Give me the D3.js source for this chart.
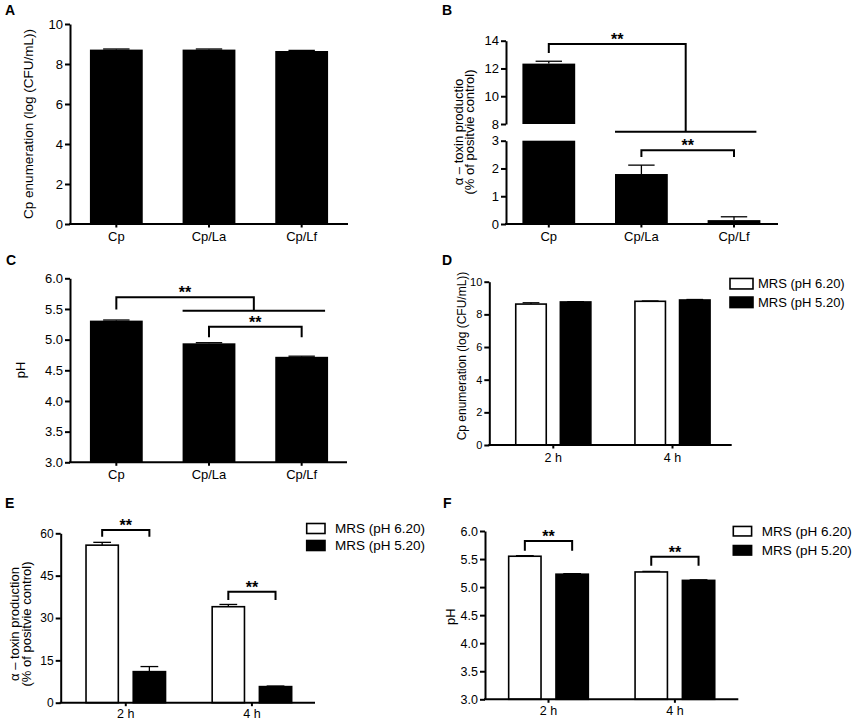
<!DOCTYPE html>
<html><head><meta charset="utf-8">
<script src="https://cdn.jsdelivr.net/npm/d3@7"></script>
<style>body{margin:0;background:#fff}</style>
</head><body>
<svg id="c" width="856" height="722"></svg>
<script>
// ---------------- DATA ----------------
const groupsABC = ["Cp", "Cp/La", "Cp/Lf"];
const cpEnumMean = [8.72, 8.72, 8.65];
const cpEnumErr = [0.03, 0.03, 0.03];
const toxinMean = [12.35, 1.80, 0.14];
const toxinErr = [0.17, 0.32, 0.12];
const phMean = [5.31, 4.94, 4.72];
const phErr = [0.01, 0.01, 0.01];

const timePoints = ["2 h", "4 h"];
const media = ["MRS (pH 6.20)", "MRS (pH 5.20)"];
const enumPH620 = [8.63, 8.80];
const enumPH620Err = [0.08, 0.02];
const enumPH520 = [8.76, 8.88];
const enumPH520Err = [0.02, 0.03];
const toxPH620 = [55.8, 34.0];
const toxPH620Err = [1.0, 0.8];
const toxPH520 = [11.0, 5.7];
const toxPH520Err = [1.8, 0.2];
const phPH620 = [5.55, 5.27];
const phPH620Err = [0.01, 0.01];
const phPH520 = [5.23, 5.12];
const phPH520Err = [0.01, 0.01];

const ticksEnum = [0, 2, 4, 6, 8, 10];
const ticksToxUpper = [8, 10, 12, 14];
const ticksToxLower = [0, 1, 2, 3];
const ticksPH = [3.0, 3.5, 4.0, 4.5, 5.0, 5.5, 6.0];
const ticksToxTime = [0, 15, 30, 45, 60];

// significance annotations (values in data units)
const sigB = { from: "Cp", top: 13.76, leg: 13.12, groupFrom: "Cp/La", groupTo: "Cp/Lf", groupLine: 3.32,
               pairFrom: "Cp/La", pairTo: "Cp/Lf", pairY: 2.66, pairLeg: 2.41 };
const sigC = { from: "Cp", top: 5.69, leg: 5.49, groupFrom: "Cp/La", groupTo: "Cp/Lf", groupLine: 5.47,
               pairFrom: "Cp/La", pairTo: "Cp/Lf", pairY: 5.21, pairLeg: 5.04 };
const sigE = [{ t: "2 h", y: 61.2, leg: 58.8 }, { t: "4 h", y: 39.3, leg: 36.4 }];
const sigF = [{ t: "2 h", y: 5.82, leg: 5.65 }, { t: "4 h", y: 5.54, leg: 5.38 }];
const sigLabel = "**";

// ---------------- HELPERS ----------------
const FONT = "'Liberation Sans', Arial, Helvetica, sans-serif";
const svg = d3.select("#c");

function txt(x, y, s, size, o = {}) {
  return svg.append("text").attr("x", x).attr("y", y)
    .attr("font-family", FONT).attr("font-size", size).attr("fill", "#000")
    .attr("font-weight", o.bold ? "bold" : "normal")
    .attr("text-anchor", o.anchor || "start")
    .attr("dominant-baseline", o.baseline || "auto")
    .text(s);
}
function rotLabel(xs, cy, lines, size) {
  lines.forEach((l, i) => {
    svg.append("text").attr("transform", `translate(${xs[i]},${cy}) rotate(-90)`)
      .attr("text-anchor", "middle").attr("dominant-baseline", "central")
      .attr("font-family", FONT).attr("font-size", size).attr("fill", "#000").text(l);
  });
}
function yAxis(scale, ticks, fmt, size, x) {
  svg.append("g").attr("transform", `translate(${x},0)`)
    .call(d3.axisLeft(scale).tickValues(ticks).tickFormat(fmt).tickSize(5).tickSizeOuter(0).tickPadding(2))
    .call(g => {
      g.attr("font-family", FONT).attr("font-size", size);
      g.select(".domain").attr("stroke", "#000").attr("stroke-width", 2);
      g.selectAll(".tick line").attr("stroke", "#000").attr("stroke-width", 2);
      g.selectAll(".tick text").attr("fill", "#000");
    });
}
function xAxis(x0, x1, y0, centers, labels, size, dy) {
  svg.append("line").attr("x1", x0 - 1).attr("x2", x1).attr("y1", y0).attr("y2", y0)
    .attr("stroke", "#000").attr("stroke-width", 2);
  centers.forEach((c, i) => {
    svg.append("line").attr("x1", c).attr("x2", c).attr("y1", y0).attr("y2", y0 + 3.5)
      .attr("stroke", "#000").attr("stroke-width", 2);
    txt(c, y0 + dy, labels[i], size, { anchor: "middle" });
  });
}
function errBar(cx, yv, ye, capW) {
  svg.append("line").attr("x1", cx).attr("x2", cx).attr("y1", yv).attr("y2", ye)
    .attr("stroke", "#000").attr("stroke-width", 1.3);
  svg.append("line").attr("x1", cx - capW / 2).attr("x2", cx + capW / 2).attr("y1", ye).attr("y2", ye)
    .attr("stroke", "#000").attr("stroke-width", 1.3);
}
function path(d) {
  svg.append("path").attr("d", d).attr("fill", "none").attr("stroke", "#000").attr("stroke-width", 2);
}
function stars(x, y) { txt(x, y + 1, sigLabel, 16, { bold: true, anchor: "middle" }); }

function simpleBars(x, y, cats, means, errs) {
  const bw = x.bandwidth();
  svg.append("g").selectAll("rect").data(cats).join("rect")
    .attr("x", d => x(d)).attr("y", (d, i) => y(means[i]))
    .attr("width", bw).attr("height", (d, i) => y(y.domain()[0]) - y(means[i]))
    .attr("fill", "#000");
  cats.forEach((c, i) => errBar(x(c) + bw / 2, y(means[i]), y(means[i] + errs[i]), bw * 0.5));
}
function groupedBars(xo, xi, y, seriesVals, seriesErrs) {
  const bw = xi.bandwidth();
  media.forEach((m, si) => {
    svg.append("g").selectAll("rect").data(timePoints).join("rect")
      .attr("x", d => xo(d) + xi(m)).attr("y", (d, i) => y(seriesVals[si][i]))
      .attr("width", bw).attr("height", (d, i) => y(y.domain()[0]) - y(seriesVals[si][i]))
      .attr("fill", si === 0 ? "#fff" : "#000").attr("stroke", "#000").attr("stroke-width", 1.6);
    timePoints.forEach((t, i) => {
      const v = seriesVals[si][i];
      errBar(xo(t) + xi(m) + bw / 2, y(v), y(v + seriesErrs[si][i]), bw * 0.55);
    });
  });
}
function legend(x, ys, boxW, boxH, textX, size) {
  media.forEach((m, i) => {
    svg.append("rect").attr("x", x).attr("y", ys[i] - boxH / 2).attr("width", boxW).attr("height", boxH)
      .attr("fill", i === 0 ? "#fff" : "#000").attr("stroke", "#000").attr("stroke-width", 1.6);
    txt(textX, ys[i], m, size, { baseline: "central" });
  });
}
function pairBracket(x1, x2, yTop, yLeg) {
  path(`M${x1},${yLeg}V${yTop}H${x2}V${yLeg}`);
  stars((x1 + x2) / 2, yTop);
}
function groupBracket(xFrom, yTop, yLeg, gx1, gx2, gy) {
  const mid = (gx1 + gx2) / 2;
  path(`M${xFrom},${yLeg}V${yTop}H${mid}V${gy}`);
  path(`M${gx1},${gy}H${gx2}`);
  stars((xFrom + mid) / 2, yTop);
}
const fmt0 = d3.format("d"), fmt1 = d3.format(".1f");

// ---------------- PANEL A ----------------
txt(5, 15, "A", 14, { bold: true });
const xA = d3.scaleBand().domain(groupsABC).range([70, 348]).paddingInner(0.43).paddingOuter(0.215);
const yA = d3.scaleLinear().domain([0, 10]).range([224, 24]);
simpleBars(xA, yA, groupsABC, cpEnumMean, cpEnumErr);
yAxis(yA, ticksEnum, fmt0, 13, 70);
xAxis(70, 348, 224, groupsABC.map(g => xA(g) + xA.bandwidth() / 2), groupsABC, 13, 17);
rotLabel([28], 124, ["Cp enumeration (log (CFU/mL))"], 13.5);

// ---------------- PANEL B ----------------
txt(442, 15, "B", 14, { bold: true });
const xB = d3.scaleBand().domain(groupsABC).range([502.5, 780.3]).paddingInner(0.43).paddingOuter(0.215);
const yBU = d3.scaleLinear().domain([8, 14]).range([124, 40.7]);
const yBL = d3.scaleLinear().domain([0, 3]).range([224, 140.7]);
{
  const bw = xB.bandwidth();
  svg.append("g").selectAll("rect").data(groupsABC).join("rect")
    .attr("x", d => xB(d)).attr("y", (d, i) => yBL(Math.min(toxinMean[i], 3)))
    .attr("width", bw).attr("height", (d, i) => yBL(0) - yBL(Math.min(toxinMean[i], 3)))
    .attr("fill", "#000");
  svg.append("g").selectAll("rect").data(groupsABC.filter((d, i) => toxinMean[i] > 8)).join("rect")
    .attr("x", d => xB(d)).attr("y", d => yBU(toxinMean[groupsABC.indexOf(d)]))
    .attr("width", bw).attr("height", d => yBU(8) - yBU(toxinMean[groupsABC.indexOf(d)]))
    .attr("fill", "#000");
  groupsABC.forEach((c, i) => {
    const v = toxinMean[i], s = v > 8 ? yBU : yBL;
    errBar(xB(c) + bw / 2, s(v), s(v + toxinErr[i]), bw * 0.5);
  });
  yAxis(yBU, ticksToxUpper, fmt0, 13, 506);
  yAxis(yBL, ticksToxLower, fmt0, 13, 506);
  xAxis(506, 778, 224, groupsABC.map(g => xB(g) + bw / 2), groupsABC, 13, 17);
  const cx = g => xB(g) + bw / 2;
  groupBracket(cx(sigB.from), yBU(sigB.top), yBU(sigB.leg), xB(sigB.groupFrom), xB(sigB.groupTo) + bw - 4, yBL(sigB.groupLine));
  pairBracket(cx(sigB.pairFrom), cx(sigB.pairTo), yBL(sigB.pairY), yBL(sigB.pairLeg));
}
rotLabel([458, 469.5], 132, ["α – toxin productio", "(% of positvie control)"], 13);

// ---------------- PANEL C ----------------
txt(6, 265, "C", 14, { bold: true });
const xC = d3.scaleBand().domain(groupsABC).range([70, 348]).paddingInner(0.43).paddingOuter(0.215);
const yC = d3.scaleLinear().domain([3, 6]).range([462.3, 278.3]);
simpleBars(xC, yC, groupsABC, phMean, phErr);
yAxis(yC, ticksPH, fmt1, 13, 70);
xAxis(70, 347, 462.3, groupsABC.map(g => xC(g) + xC.bandwidth() / 2), groupsABC, 13, 17);
{
  const bw = xC.bandwidth(), cx = g => xC(g) + bw / 2;
  groupBracket(cx(sigC.from), yC(sigC.top), yC(sigC.leg), xC(sigC.groupFrom), xC(sigC.groupTo) + bw - 3, yC(sigC.groupLine));
  pairBracket(cx(sigC.pairFrom), cx(sigC.pairTo), yC(sigC.pairY), yC(sigC.pairLeg));
}
rotLabel([20], 370, ["pH"], 13);

// ---------------- PANEL D ----------------
txt(442, 265, "D", 14, { bold: true });
const xD = d3.scaleBand().domain(timePoints).range([493.7, 732.1]).paddingInner(0.25).paddingOuter(0.125);
const xDi = d3.scaleBand().domain(media).range([0, xD.bandwidth()]).paddingInner(0.316).paddingOuter(0.16);
const yD = d3.scaleLinear().domain([0, 10]).range([445, 281.7]);
groupedBars(xD, xDi, yD, [enumPH620, enumPH520], [enumPH620Err, enumPH520Err]);
yAxis(yD, ticksEnum, fmt0, 11, 489.3);
xAxis(489.3, 731.7, 445, timePoints.map(t => xD(t) + xD.bandwidth() / 2), timePoints, 12.5, 16.5);
rotLabel([461.7], 356, ["Cp enumeration (log (CFU/mL))"], 12);
legend(730, [283.7, 302.3], 23, 10.5, 758, 13);

// ---------------- PANEL E ----------------
txt(5, 508, "E", 14, { bold: true });
const xE = d3.scaleBand().domain(timePoints).range([62.7, 315]).paddingInner(0.25).paddingOuter(0.125);
const xEi = d3.scaleBand().domain(media).range([0, xE.bandwidth()]).paddingInner(0.316).paddingOuter(0.16);
const yE = d3.scaleLinear().domain([0, 60]).range([702.7, 533.3]);
groupedBars(xE, xEi, yE, [toxPH620, toxPH520], [toxPH620Err, toxPH520Err]);
yAxis(yE, ticksToxTime, fmt0, 12, 60.7);
xAxis(60.7, 315, 702.7, timePoints.map(t => xE(t) + xE.bandwidth() / 2), timePoints, 12.5, 15.7);
sigE.forEach(s => {
  const bw = xEi.bandwidth();
  pairBracket(xE(s.t) + xEi(media[0]) + bw / 2, xE(s.t) + xEi(media[1]) + bw / 2, yE(s.y), yE(s.leg));
});
rotLabel([14.5, 26], 624, ["α – toxin production", "(% of positvie control)"], 13);
legend(306.7, [528.5, 545.5], 18.3, 10, 335, 13.5);

// ---------------- PANEL F ----------------
txt(443, 508, "F", 14, { bold: true });
const xF = d3.scaleBand().domain(timePoints).range([485.3, 738.1]).paddingInner(0.25).paddingOuter(0.125);
const xFi = d3.scaleBand().domain(media).range([0, xF.bandwidth()]).paddingInner(0.316).paddingOuter(0.16);
const yF = d3.scaleLinear().domain([3, 6]).range([699.3, 531]);
groupedBars(xF, xFi, yF, [phPH620, phPH520], [phPH620Err, phPH520Err]);
yAxis(yF, ticksPH, fmt1, 12.5, 485);
xAxis(485, 738.3, 699.3, timePoints.map(t => xF(t) + xF.bandwidth() / 2), timePoints, 12.5, 15.7);
sigF.forEach(s => {
  const bw = xFi.bandwidth();
  pairBracket(xF(s.t) + xFi(media[0]) + bw / 2, xF(s.t) + xFi(media[1]) + bw / 2, yF(s.y), yF(s.leg));
});
rotLabel([450], 616.7, ["pH"], 13);
legend(733.3, [531.2, 550.3], 18.3, 9.5, 761.7, 13.5);
</script>
</body></html>
